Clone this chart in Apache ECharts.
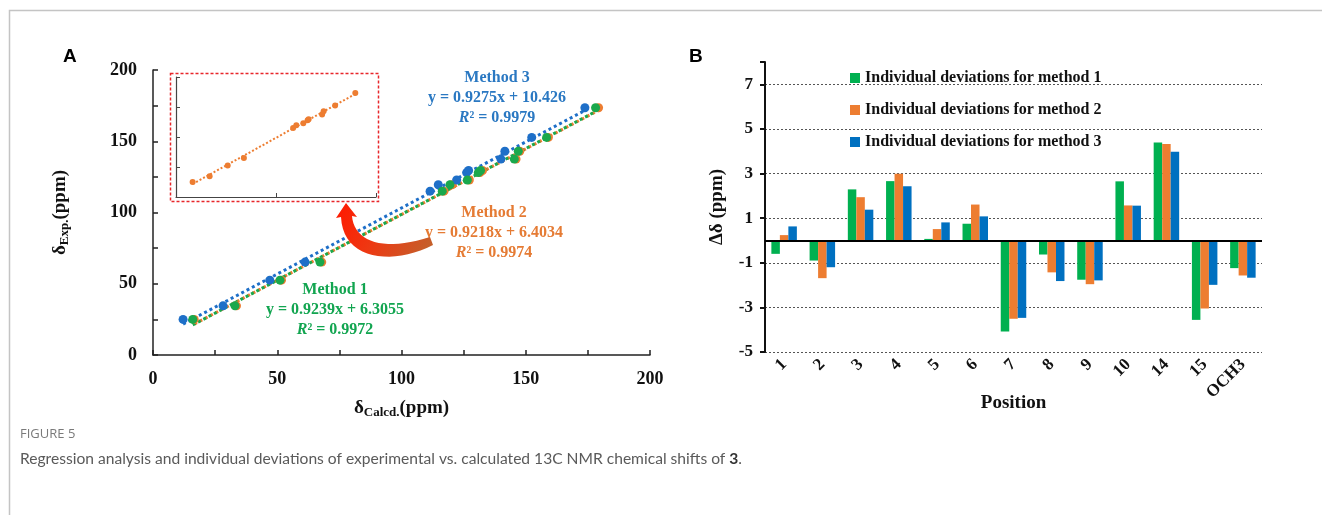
<!DOCTYPE html>
<html>
<head>
<meta charset="utf-8">
<script src="https://cdn.jsdelivr.net/npm/echarts@6/dist/echarts.min.js"></script>
<style>
  html, body { margin: 0; padding: 0; background: #fff; }
  #main { width: 1322px; height: 515px; }
</style>
</head>
<body>
<div id="main"></div>
<script>
// A: 实验值与计算值 (ppm)
var expShift = [25.0, 34.5, 52.5, 65.2, 115.0, 119.5, 122.8, 128.0, 129.5, 137.5, 143.0, 152.7, 173.5]
var calcMethod1 = [16.0, 33.0, 51.1, 67.2, 116.4, 119.5, 126.5, 130.9, 131.8, 145.4, 147.0, 158.4, 178.1]
var calcMethod2 = [16.6, 33.6, 51.7, 67.9, 117.1, 120.3, 127.3, 131.6, 132.6, 146.1, 147.6, 159.1, 179.3]
var calcMethod3 = [12.1, 28.2, 47.0, 61.2, 111.5, 114.8, 122.2, 126.2, 127.0, 140.0, 141.6, 152.4, 173.8]
var slopes = [0.9239, 0.9218, 0.9275]
var intercepts = ['6.3055', '6.4034', '10.426']
var r2Values = ['0.9972', '0.9974', '0.9979']

// B: 各位置偏差
var positions = ['1', '2', '3', '4', '5', '6', '7', '8', '9', '10', '14', '15', 'OCH3']
var dev1 = [-0.60, -0.90, 2.29, 2.66, 0.07, 0.75, -4.08, -0.63, -1.76, 2.65, 4.39, -3.56, -1.24]
var dev2 = [0.24, -1.69, 1.94, 2.99, 0.51, 1.61, -3.51, -1.43, -1.96, 1.57, 4.32, -3.05, -1.57]
var dev3 = [0.63, -1.20, 1.38, 2.43, 0.81, 1.08, -3.47, -1.82, -1.79, 1.56, 3.98, -1.99, -1.67]
var legendNames = ['Individual deviations for method 1', 'Individual deviations for method 2', 'Individual deviations for method 3']

var green = '#1aa84c', orange = '#ed7d31', blue = '#1e6fc8'
var serif = '"Liberation Serif", "Times New Roman", serif'

function pairs(xs) {
  return xs.map(function (x, i) { return [x, expShift[i]] })
}
// 趋势线端点
function trend(xs, k, b) {
  var lo = Math.min.apply(null, xs), hi = Math.max.apply(null, xs)
  b = parseFloat(b)
  return [[lo, k * lo + b], [hi, k * hi + b]]
}
function scatter(name, xs, color, size, idx) {
  return {
    name: name, type: 'scatter', xAxisIndex: idx, yAxisIndex: idx,
    symbolSize: size, itemStyle: { color: color, opacity: 1 },
    data: pairs(xs), z: 3
  }
}
function trendLine(xs, n, color, width, idx) {
  return {
    type: 'line', xAxisIndex: idx, yAxisIndex: idx, symbol: 'none', silent: true,
    lineStyle: { color: color, width: width, type: [width, width] },
    data: trend(xs, slopes[n], intercepts[n]), z: 2
  }
}
function bars(name, values, color) {
  return {
    name: name, type: 'bar', xAxisIndex: 2, yAxisIndex: 2,
    barWidth: 8.5, barGap: '0%', itemStyle: { color: color },
    data: values
  }
}
function methodLabel(cx, top, color, n) {
  var font = 'bold 16px ' + serif
  return [
    { type: 'text', x: cx, y: top, style: { text: 'Method ' + (n + 1), font: font, fill: color, align: 'center' } },
    { type: 'text', x: cx, y: top + 20, style: { text: 'y = ' + slopes[n] + 'x + ' + intercepts[n], font: font, fill: color, align: 'center' } },
    { type: 'text', x: cx, y: top + 40, style: {
      text: '{i|R}² = ' + r2Values[n], font: font, fill: color, align: 'center',
      rich: { i: { font: 'italic bold 16px ' + serif, fill: color, color: color } }
    } }
  ]
}

// 弯箭头 (装饰)
function bez(p0, p1, p2, p3, t) {
  var u = 1 - t
  return [
    u * u * u * p0[0] + 3 * u * u * t * p1[0] + 3 * u * t * t * p2[0] + t * t * t * p3[0],
    u * u * u * p0[1] + 3 * u * u * t * p1[1] + 3 * u * t * t * p2[1] + t * t * t * p3[1]
  ]
}
function arrowPoints() {
  var pts = [[346, 203], [357, 217], [352, 216]]
  var i
  for (i = 1; i <= 20; i++) pts.push(bez([352, 216], [354, 242], [384, 252], [430, 237], i / 20))
  pts.push([433, 245])
  for (i = 1; i <= 20; i++) pts.push(bez([433, 245], [392, 266], [343, 260], [341, 217], i / 20))
  pts.push([336, 218])
  return pts
}

var chart = echarts.init(document.getElementById('main'))

var labelBold = { fontFamily: serif, fontWeight: 'bold', fontSize: 18, color: '#111' }
var subRich = {
  d: { fontFamily: serif, fontWeight: 'bold', fontSize: 19, color: '#111' },
  s: { fontFamily: serif, fontWeight: 'bold', fontSize: 13, color: '#111', padding: [9, 0, 0, 0] }
}

var option = {
  animation: false,
  backgroundColor: '#fff',
  grid: [
    { left: 153, top: 70, width: 497, height: 285 },
    { left: 176, top: 77, width: 200, height: 120 },
    { left: 765, top: 62, width: 497, height: 290 }
  ],
  legend: {
    data: legendNames, orient: 'vertical', left: 845, top: 65, itemGap: 16,
    icon: 'rect', itemWidth: 10, itemHeight: 10,
    textStyle: { fontFamily: serif, fontWeight: 'bold', fontSize: 16, color: '#111' }
  },
  xAxis: [
    {
      gridIndex: 0, type: 'value', min: 0, max: 200, interval: 25,
      name: '{d|δ}{s|Calcd.}{d|(ppm)}', nameLocation: 'middle', nameGap: 42,
      nameTextStyle: { rich: subRich },
      axisLine: { lineStyle: { color: '#222', width: 1.5 } },
      axisTick: { inside: true, length: 5, lineStyle: { color: '#222', width: 1.5 } },
      axisLabel: Object.assign({ margin: 15, formatter: function (v) { return v % 50 === 0 ? v : '' } }, labelBold),
      splitLine: { show: false }
    },
    {
      gridIndex: 1, type: 'value', min: 0, max: 200, interval: 100,
      axisLine: { lineStyle: { color: '#444', width: 1.2 } },
      axisTick: { inside: true, length: 4, lineStyle: { color: '#444' } },
      axisLabel: { show: false }, splitLine: { show: false }
    },
    {
      gridIndex: 2, type: 'category', data: positions, position: 'bottom',
      axisLine: { show: false, onZero: false }, axisTick: { show: false },
      axisLabel: Object.assign({ rotate: 45, margin: 10, interval: 0 }, labelBold, { fontSize: 17 }),
      name: 'Position', nameLocation: 'middle', nameGap: 42, nameMoveOverlap: false,
      nameTextStyle: { fontFamily: serif, fontWeight: 'bold', fontSize: 19, color: '#111' }
    }
  ],
  yAxis: [
    {
      gridIndex: 0, type: 'value', min: 0, max: 200, interval: 25,
      name: '{d|δ}{s|Exp.}{d|(ppm)}', nameLocation: 'middle', nameGap: 82, nameRotate: 90,
      nameTextStyle: { rich: subRich },
      axisLine: { show: true, lineStyle: { color: '#222', width: 1.5 } },
      axisTick: { show: true, inside: true, length: 5, lineStyle: { color: '#222', width: 1.5 } },
      axisLabel: Object.assign({ margin: 16, formatter: function (v) { return v % 50 === 0 ? v : '' } }, labelBold),
      splitLine: { show: false }
    },
    {
      gridIndex: 1, type: 'value', min: 0, max: 200, interval: 50,
      axisLine: { show: true, lineStyle: { color: '#444', width: 1.2 } },
      axisTick: { show: true, inside: true, length: 4, lineStyle: { color: '#444' } },
      axisLabel: { show: false }, splitLine: { show: false }
    },
    {
      gridIndex: 2, type: 'value', min: -5, max: 8, interval: 2,
      name: 'Δδ (ppm)', nameLocation: 'middle', nameGap: 38, nameRotate: 90,
      nameTextStyle: { fontFamily: serif, fontWeight: 'bold', fontSize: 19, color: '#111' },
      axisLine: { show: true, lineStyle: { color: '#111', width: 2 } },
      axisTick: { show: true, length: 5, lineStyle: { color: '#111', width: 2 } },
      axisLabel: Object.assign({ margin: 12, formatter: function (v) { return v === 8 ? '' : v } }, labelBold, { fontSize: 17 }),
      splitLine: { show: true, showMaxLine: false, lineStyle: { color: '#555', type: [2, 2], width: 1 } }
    }
  ],
  series: [
    scatter('m2', calcMethod2, orange, 9, 0),
    trendLine(calcMethod2, 1, orange, 3, 0),
    scatter('m3', calcMethod3, blue, 9, 0),
    trendLine(calcMethod3, 2, blue, 3, 0),
    scatter('m1', calcMethod1, green, 9, 0),
    trendLine(calcMethod1, 0, green, 3, 0),
    scatter('inset', calcMethod2, orange, 6, 1),
    trendLine(calcMethod2, 1, orange, 2, 1),
    bars(legendNames[0], dev1, '#00b050'),
    bars(legendNames[1], dev2, '#ed7d31'),
    Object.assign(bars(legendNames[2], dev3, '#0070c0'), {
      markLine: {
        silent: true, symbol: 'none', label: { show: false },
        lineStyle: { color: '#000', width: 2, type: 'solid' },
        data: [{ yAxis: 0 }]
      }
    })
  ],
  graphic: [
    { type: 'polyline', shape: { points: [[9.5, 515], [9.5, 10.5], [1322, 10.5]] }, style: { stroke: '#c4c4c4', lineWidth: 1.5, fill: null } },
    { type: 'text', x: 63, y: 47, style: { text: 'A', font: 'bold 19px "Liberation Sans", Arial, sans-serif', fill: '#000' } },
    { type: 'text', x: 689, y: 47, style: { text: 'B', font: 'bold 19px "Liberation Sans", Arial, sans-serif', fill: '#000' } },
    { type: 'rect', shape: { x: 170.5, y: 73.5, width: 208, height: 128 }, style: { fill: null, stroke: '#e8262b', lineWidth: 1.5, lineDash: [3, 2] }, z: 10 },
    {
      type: 'polygon', z: 10,
      shape: { points: arrowPoints() },
      style: {
        fill: new echarts.graphic.LinearGradient(0, 0, 1, 1, [
          { offset: 0, color: '#ff1800' }, { offset: 0.45, color: '#ee3812' }, { offset: 1, color: '#bf652e' }
        ])
      }
    },
    { type: 'text', x: 20, y: 428, style: { text: 'FIGURE 5', font: '13px "Open Sans", sans-serif', fill: '#7a7a7a' } },
    { type: 'text', x: 20, y: 451, style: {
      text: 'Regression analysis and individual deviations of experimental vs. calculated 13C NMR chemical shifts of {b|3}.',
      font: '15.6px Lato, sans-serif', fill: '#5a5a5a',
      rich: { b: { font: 'bold 15.6px Lato, sans-serif', fill: '#333', color: '#333' } }
    } }
  ].concat(methodLabel(497, 70, '#2a78c2', 2))
    .concat(methodLabel(494, 205, '#e57b34', 1))
    .concat(methodLabel(335, 282, '#12a550', 0))
}

chart.setOption(option)
</script>
</body>
</html>
